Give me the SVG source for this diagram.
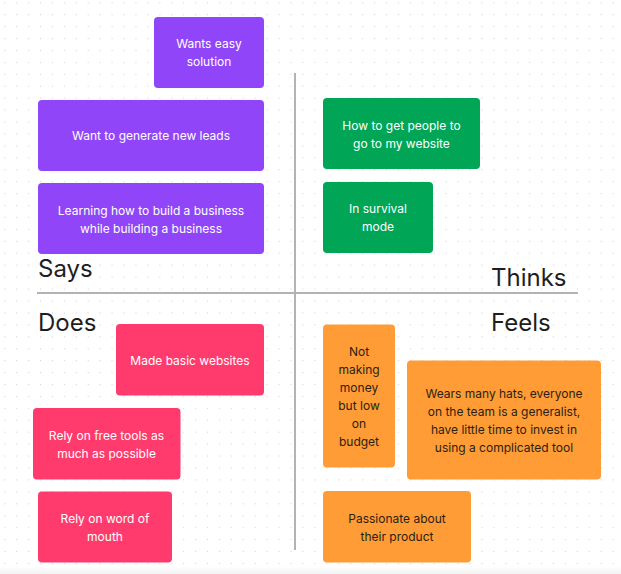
<svg xmlns="http://www.w3.org/2000/svg" width="621" height="574" viewBox="0 0 621 574">
<style>
.n text{font-family:Inter,"Liberation Sans",sans-serif;font-size:12px;text-anchor:middle}
.lt text{fill:#ffffff}
.dk text{fill:#2a1f14}
.p rect{fill:#9045f9}
.g rect{fill:#00a556}
.r rect{fill:#ff3b6e}
.o rect{fill:#ff9c35}
.h{font-family:Inter,"Liberation Sans",sans-serif;font-size:24px;fill:#1e1e1e}
.ax{stroke:#b3b3b3;stroke-width:2;fill:none}
</style>
<defs>
<pattern id="dots" x="4.2" y="2.2" width="11.93" height="11.93" patternUnits="userSpaceOnUse">
<rect x="0" y="0" width="1.1" height="1.1" fill="#d4d4d4"/>
</pattern>
<linearGradient id="bot" x1="0" y1="0" x2="0" y2="1">
<stop offset="0" stop-color="#ffffff"/>
<stop offset="1" stop-color="#f3f3f3"/>
</linearGradient>
</defs>
<rect width="621" height="574" fill="#ffffff"/>
<rect width="621" height="574" fill="url(#dots)"/>
<rect x="0" y="566" width="621" height="8" fill="url(#bot)"/>

<g id="connectors">
<line class="ax" x1="295" y1="73" x2="295" y2="550"/>
<line class="ax" x1="37" y1="293" x2="578" y2="293"/>
</g>

<g id="labels">
<text class="h" x="38" y="277">Says</text>
<text class="h" x="491" y="286">Thinks</text>
<text class="h" x="38" y="331">Does</text>
<text class="h" x="491" y="331">Feels</text>
</g>

<g id="says1" class="n p lt"><rect x="154" y="17" width="110" height="71" rx="4"/><text x="209" y="48">Wants easy</text><text x="209" y="66">solution</text></g>
<g id="says2" class="n p lt"><rect x="38" y="100" width="226" height="71" rx="4"/><text x="151" y="140">Want to generate new leads</text></g>
<g id="says3" class="n p lt"><rect x="38" y="183" width="226" height="71" rx="4"/><text x="151" y="215">Learning how to build a business</text><text x="151" y="233">while building a business</text></g>

<g id="thinks1" class="n g lt"><rect x="323" y="98" width="157" height="71" rx="4"/><text x="401.5" y="130">How to get people to</text><text x="401.5" y="148">go to my website</text></g>
<g id="thinks2" class="n g lt"><rect x="323" y="182" width="110" height="71" rx="4"/><text x="378" y="213">In survival</text><text x="378" y="231">mode</text></g>

<g id="does1" class="n r lt"><rect x="116" y="324" width="148" height="71.5" rx="4"/><text x="190" y="364.5">Made basic websites</text></g>
<g id="does2" class="n r lt"><rect x="33" y="408" width="147.5" height="71.5" rx="4"/><text x="106.5" y="440">Rely on free tools as</text><text x="106.5" y="458">much as possible</text></g>
<g id="does3" class="n r lt"><rect x="38" y="491.5" width="134" height="71" rx="4"/><text x="105" y="523">Rely on word of</text><text x="105" y="541">mouth</text></g>

<g id="feels1" class="n o dk"><rect x="323" y="324.5" width="72" height="143" rx="4"/><text x="359" y="356">Not</text><text x="359" y="374">making</text><text x="359" y="392">money</text><text x="359" y="410">but low</text><text x="359" y="428">on</text><text x="359" y="446">budget</text></g>
<g id="feels2" class="n o dk"><rect x="407" y="360.5" width="194" height="119" rx="4"/><text x="504" y="398">Wears many hats, everyone</text><text x="504" y="416">on the team is a generalist,</text><text x="504" y="434">have little time to invest in</text><text x="504" y="452">using a complicated tool</text></g>
<g id="feels3" class="n o dk"><rect x="323" y="491" width="148" height="71.5" rx="4"/><text x="397" y="523">Passionate about</text><text x="397" y="541">their product</text></g>
</svg>
